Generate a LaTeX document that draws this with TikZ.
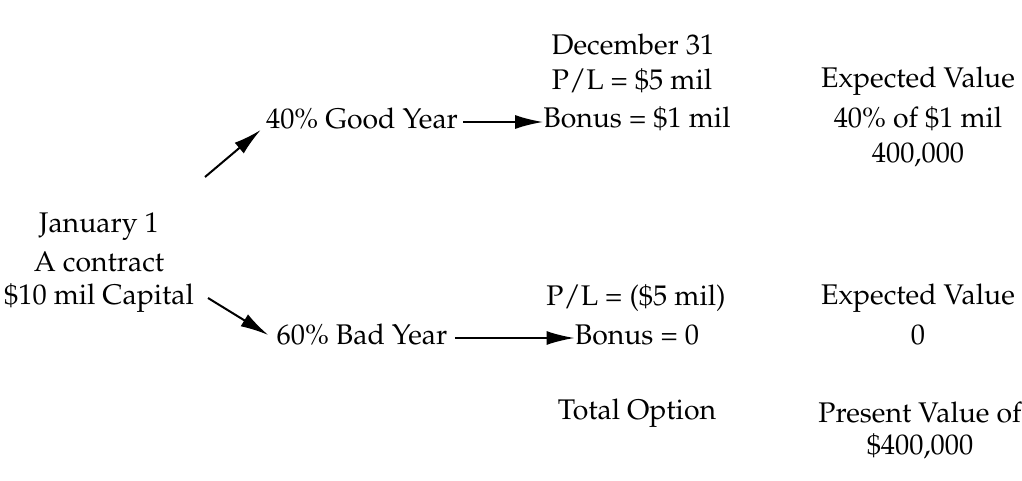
\documentclass[tikz,border=0pt]{standalone}
\usepackage[T1]{fontenc}
\usepackage{mathpazo}
\usepackage{tikz}
\usetikzlibrary{arrows.meta}

\begin{document}
\begin{tikzpicture}[x=0.5pt,y=-0.5pt,
  txt/.style={inner sep=0pt,font=\fontsize{14.2}{17}\selectfont},
  >={Latex[length=14pt,width=7pt]}]
\useasboundingbox (0,0) rectangle (1022,481);

% start of the year
\node[txt] (jan) at (99,227) {January 1};
\node[txt] (contract) at (99,262) {A contract};
\node[txt] (capital) at (99,298) {\$10 mil Capital};

% the two outcomes
\node[txt] (good) at (362,119) {40\% Good Year};
\node[txt] (bad) at (362,335) {60\% Bad Year};

% end of the year
\node[txt] (dec) at (633,45) {December 31};
\node[txt] (plgood) at (632,81) {P/L = \$5 mil};
\node[txt] (bonusgood) at (637,119) {Bonus = \$1 mil};
\node[txt] (plbad) at (636,298) {P/L = (\$5 mil)};
\node[txt] (bonusbad) at (637,335) {Bonus = 0};
\node[txt] (total) at (637,413) {Total Option};

% expected values
\node[txt] (evgood) at (918,81) {Expected Value};
\node[txt] (evpct) at (918,119) {40\% of \$1 mil};
\node[txt] (evamt) at (918,155) {400,000};
\node[txt] (evbad) at (918,298) {Expected Value};
\node[txt] (evzero) at (918,335) {0};
\node[txt] (pv) at (920,413) {Present Value of};
\node[txt] (pvamt) at (920,447) {\$400,000};

\coordinate (up) at (205,177);
\coordinate (down) at (208,298);

\draw[->,line width=1pt] (up)--([xshift=-2.5pt]good.south west);
\draw[->,line width=1pt] (down)--([xshift=-4pt]bad.west);
\draw[->,line width=1pt] ([xshift=2.5pt,yshift=-1.5pt]good.east)--([yshift=-1.5pt]bonusgood.west);
\draw[->,line width=1pt] ([xshift=3.5pt,yshift=-1.5pt]bad.east)--([yshift=-1.5pt]bonusbad.west);
\end{tikzpicture}
\end{document}
